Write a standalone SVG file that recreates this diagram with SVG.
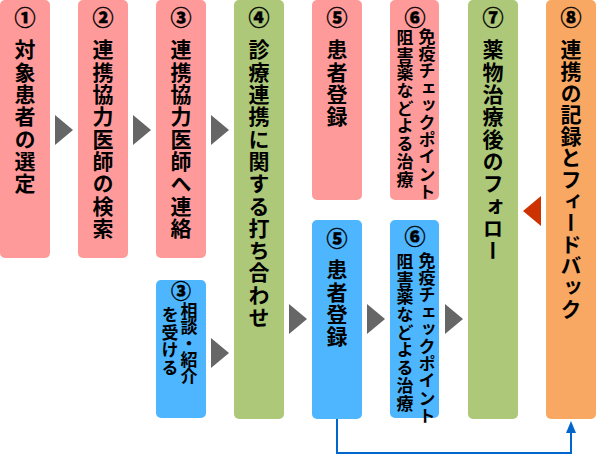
<svg xmlns="http://www.w3.org/2000/svg" width="596" height="455" viewBox="0 0 596 455">
<style>
.pink{fill:#ff9a9a}.green{fill:#adc878}.blue{fill:#4db6ff}.orange{fill:#f9a864}
.num{font-family:"Noto Sans CJK JP","Noto Sans",sans-serif;font-weight:900;font-size:21px;fill:#000;text-anchor:middle;stroke:#000;stroke-width:0.4px}
.v{font-family:"Noto Sans CJK JP",sans-serif;font-weight:bold;font-size:21px;fill:#000;writing-mode:vertical-rl;letter-spacing:1.3px}
.vs{font-family:"Noto Sans CJK JP",sans-serif;font-weight:bold;font-size:17px;fill:#000;writing-mode:vertical-rl;letter-spacing:0.2px}
.arr{fill:#666}
</style>
<g id="n1"><rect class="pink" x="0" y="0" width="50" height="258" rx="5"/><text class="num" x="25" y="25">①</text><text class="v" x="25" y="39">対象患者の選定</text></g>
<g id="n2"><rect class="pink" x="78" y="0" width="50" height="258" rx="5"/><text class="num" x="103" y="25">②</text><text class="v" x="103" y="39">連携協力医師の検索</text></g>
<g id="n3a"><rect class="pink" x="156" y="0" width="50" height="258" rx="5"/><text class="num" x="181" y="25">③</text><text class="v" x="181" y="39">連携協力医師へ連絡</text></g>
<g id="n3b"><rect class="blue" x="156" y="280" width="50" height="138" rx="5"/><text class="num" x="181" y="299" style="font-size:20px">③</text><text class="vs" x="189" y="302" style="letter-spacing:-0.6px">相談・紹介</text><text class="vs" x="170" y="306" style="letter-spacing:0.7px">を受ける</text></g>
<g id="n4"><rect class="green" x="234" y="0" width="50" height="419" rx="5"/><text class="num" x="259" y="25">④</text><text class="v" x="259" y="39">診療連携に関する打ち合わせ</text></g>
<g id="n5a"><rect class="pink" x="312" y="0" width="50" height="200" rx="5"/><text class="num" x="337" y="25">⑤</text><text class="v" x="337" y="39">患者登録</text></g>
<g id="n5b"><rect class="blue" x="312" y="220" width="50" height="199" rx="5"/><text class="num" x="337" y="246">⑤</text><text class="v" x="337" y="259">患者登録</text></g>
<g id="n6a"><rect class="pink" x="390" y="0" width="49" height="200" rx="5"/><text class="num" x="415" y="25">⑥</text><text class="vs" x="427" y="28">免疫チェックポイント</text><text class="vs" x="405" y="29" style="letter-spacing:0.7px">阻害薬などよる治療</text></g>
<g id="n6b"><rect class="blue" x="390" y="220" width="49" height="198" rx="5"/><text class="num" x="415" y="244">⑥</text><text class="vs" x="427" y="252">免疫チェックポイント</text><text class="vs" x="405" y="253" style="letter-spacing:0.7px">阻害薬などよる治療</text></g>
<g id="n7"><rect class="green" x="468" y="0" width="50" height="419" rx="5"/><text class="num" x="493" y="25">⑦</text><text class="v" x="493" y="39">薬物治療後のフォロー</text></g>
<g id="n8"><rect class="orange" x="546" y="0" width="50" height="419" rx="5"/><text class="num" x="571" y="25">⑧</text><text class="v" x="571" y="39" style="letter-spacing:0.6px">連携の記録とフィードバック</text></g>
<g id="connectors">
<polygon class="arr" points="55,115 73,130 55,145"/>
<polygon class="arr" points="133,115 151,130 133,145"/>
<polygon class="arr" points="211,115 229,130 211,145"/>
<polygon class="arr" points="211,338 229,353 211,368"/>
<polygon class="arr" points="289,304 307,319 289,334"/>
<polygon class="arr" points="367,304 385,319 367,334"/>
<polygon class="arr" points="445,304 463,319 445,334"/>
<polygon fill="#cc3300" points="541,196 523,211 541,226"/>
<path d="M337,419 V453 H571 V432" fill="none" stroke="#0066cc" stroke-width="2"/>
<polygon fill="#0066cc" points="566,433 571,421 576,433"/>
</g>
</svg>
